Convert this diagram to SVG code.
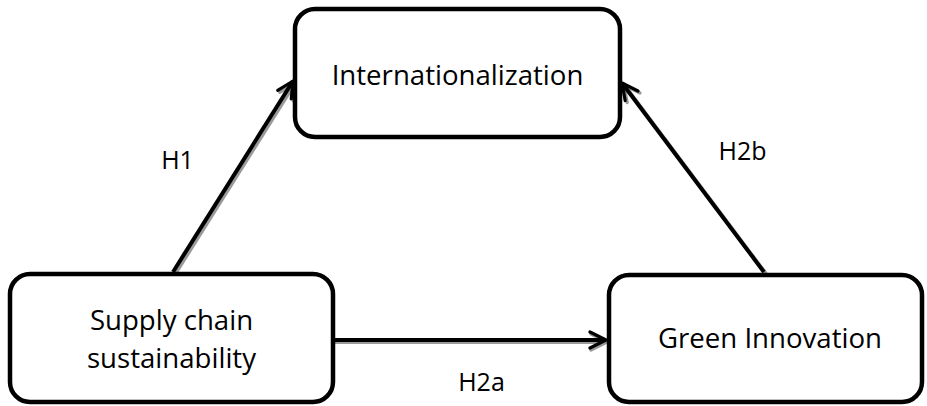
<svg xmlns="http://www.w3.org/2000/svg" width="927" height="406" viewBox="0 0 927 406">
  <style>
    .box { fill: #ffffff; stroke: #000000; stroke-width: 4.5; }
    .lbl { font-family: "Open Sans", "Liberation Sans", sans-serif; font-size: 27.6px; fill: #000000; text-anchor: middle; }
    .hyp { font-family: "Open Sans", "Liberation Sans", sans-serif; font-size: 25px; fill: #000000; text-anchor: middle; }
    .edge { fill: none; stroke: #000000; stroke-width: 4; }
    .shadow { fill: none; stroke: #9a9a9a; stroke-width: 4; }
  </style>
  <defs>
    <marker id="arr" viewBox="0 0 10 10" refX="9" refY="5" markerWidth="5" markerHeight="5" orient="auto" markerUnits="strokeWidth">
      <path d="M1,1 L9,5 L1,9" fill="none" stroke="#000000" stroke-width="1.6" stroke-linecap="round" stroke-linejoin="round"/>
    </marker>
    <marker id="arrs" viewBox="0 0 10 10" refX="9" refY="5" markerWidth="5" markerHeight="5" orient="auto" markerUnits="strokeWidth">
      <path d="M1,1 L9,5 L1,9" fill="none" stroke="#9a9a9a" stroke-width="1.6" stroke-linecap="round" stroke-linejoin="round"/>
    </marker>
  </defs>

  <g id="connectors">
    <g id="shadows">
      <line class="shadow" x1="175" y1="274" x2="295" y2="83" marker-end="url(#arrs)"/>
      <line class="shadow" x1="766" y1="274" x2="624" y2="85" marker-end="url(#arrs)"/>
      <line class="shadow" x1="335" y1="342" x2="607" y2="342" marker-end="url(#arrs)"/>
    </g>
    <line id="e-h1" class="edge" x1="173" y1="272" x2="293" y2="81" marker-end="url(#arr)"/>
    <line id="e-h2b" class="edge" x1="764" y1="272" x2="622" y2="83" marker-end="url(#arr)"/>
    <line id="e-h2a" class="edge" x1="335" y1="340" x2="606" y2="340" marker-end="url(#arr)"/>
    <text class="hyp" x="177.5" y="169">H1</text>
    <text class="hyp" x="742.5" y="160">H2b</text>
    <text class="hyp" x="481.5" y="391">H2a</text>
  </g>

  <g id="node-internationalization">
    <rect class="box" x="295" y="9" width="325" height="128" rx="20" ry="20"/>
    <text class="lbl" x="457.5" y="85">Internationalization</text>
  </g>

  <g id="node-supply-chain">
    <rect class="box" x="10" y="274" width="323" height="128" rx="20" ry="20"/>
    <text class="lbl" x="171.5" y="330">Supply chain</text>
    <text class="lbl" x="171.5" y="368">sustainability</text>
  </g>

  <g id="node-green-innovation">
    <rect class="box" x="609" y="275" width="313" height="127" rx="20" ry="20"/>
    <text class="lbl" x="770" y="348">Green Innovation</text>
  </g>
</svg>
